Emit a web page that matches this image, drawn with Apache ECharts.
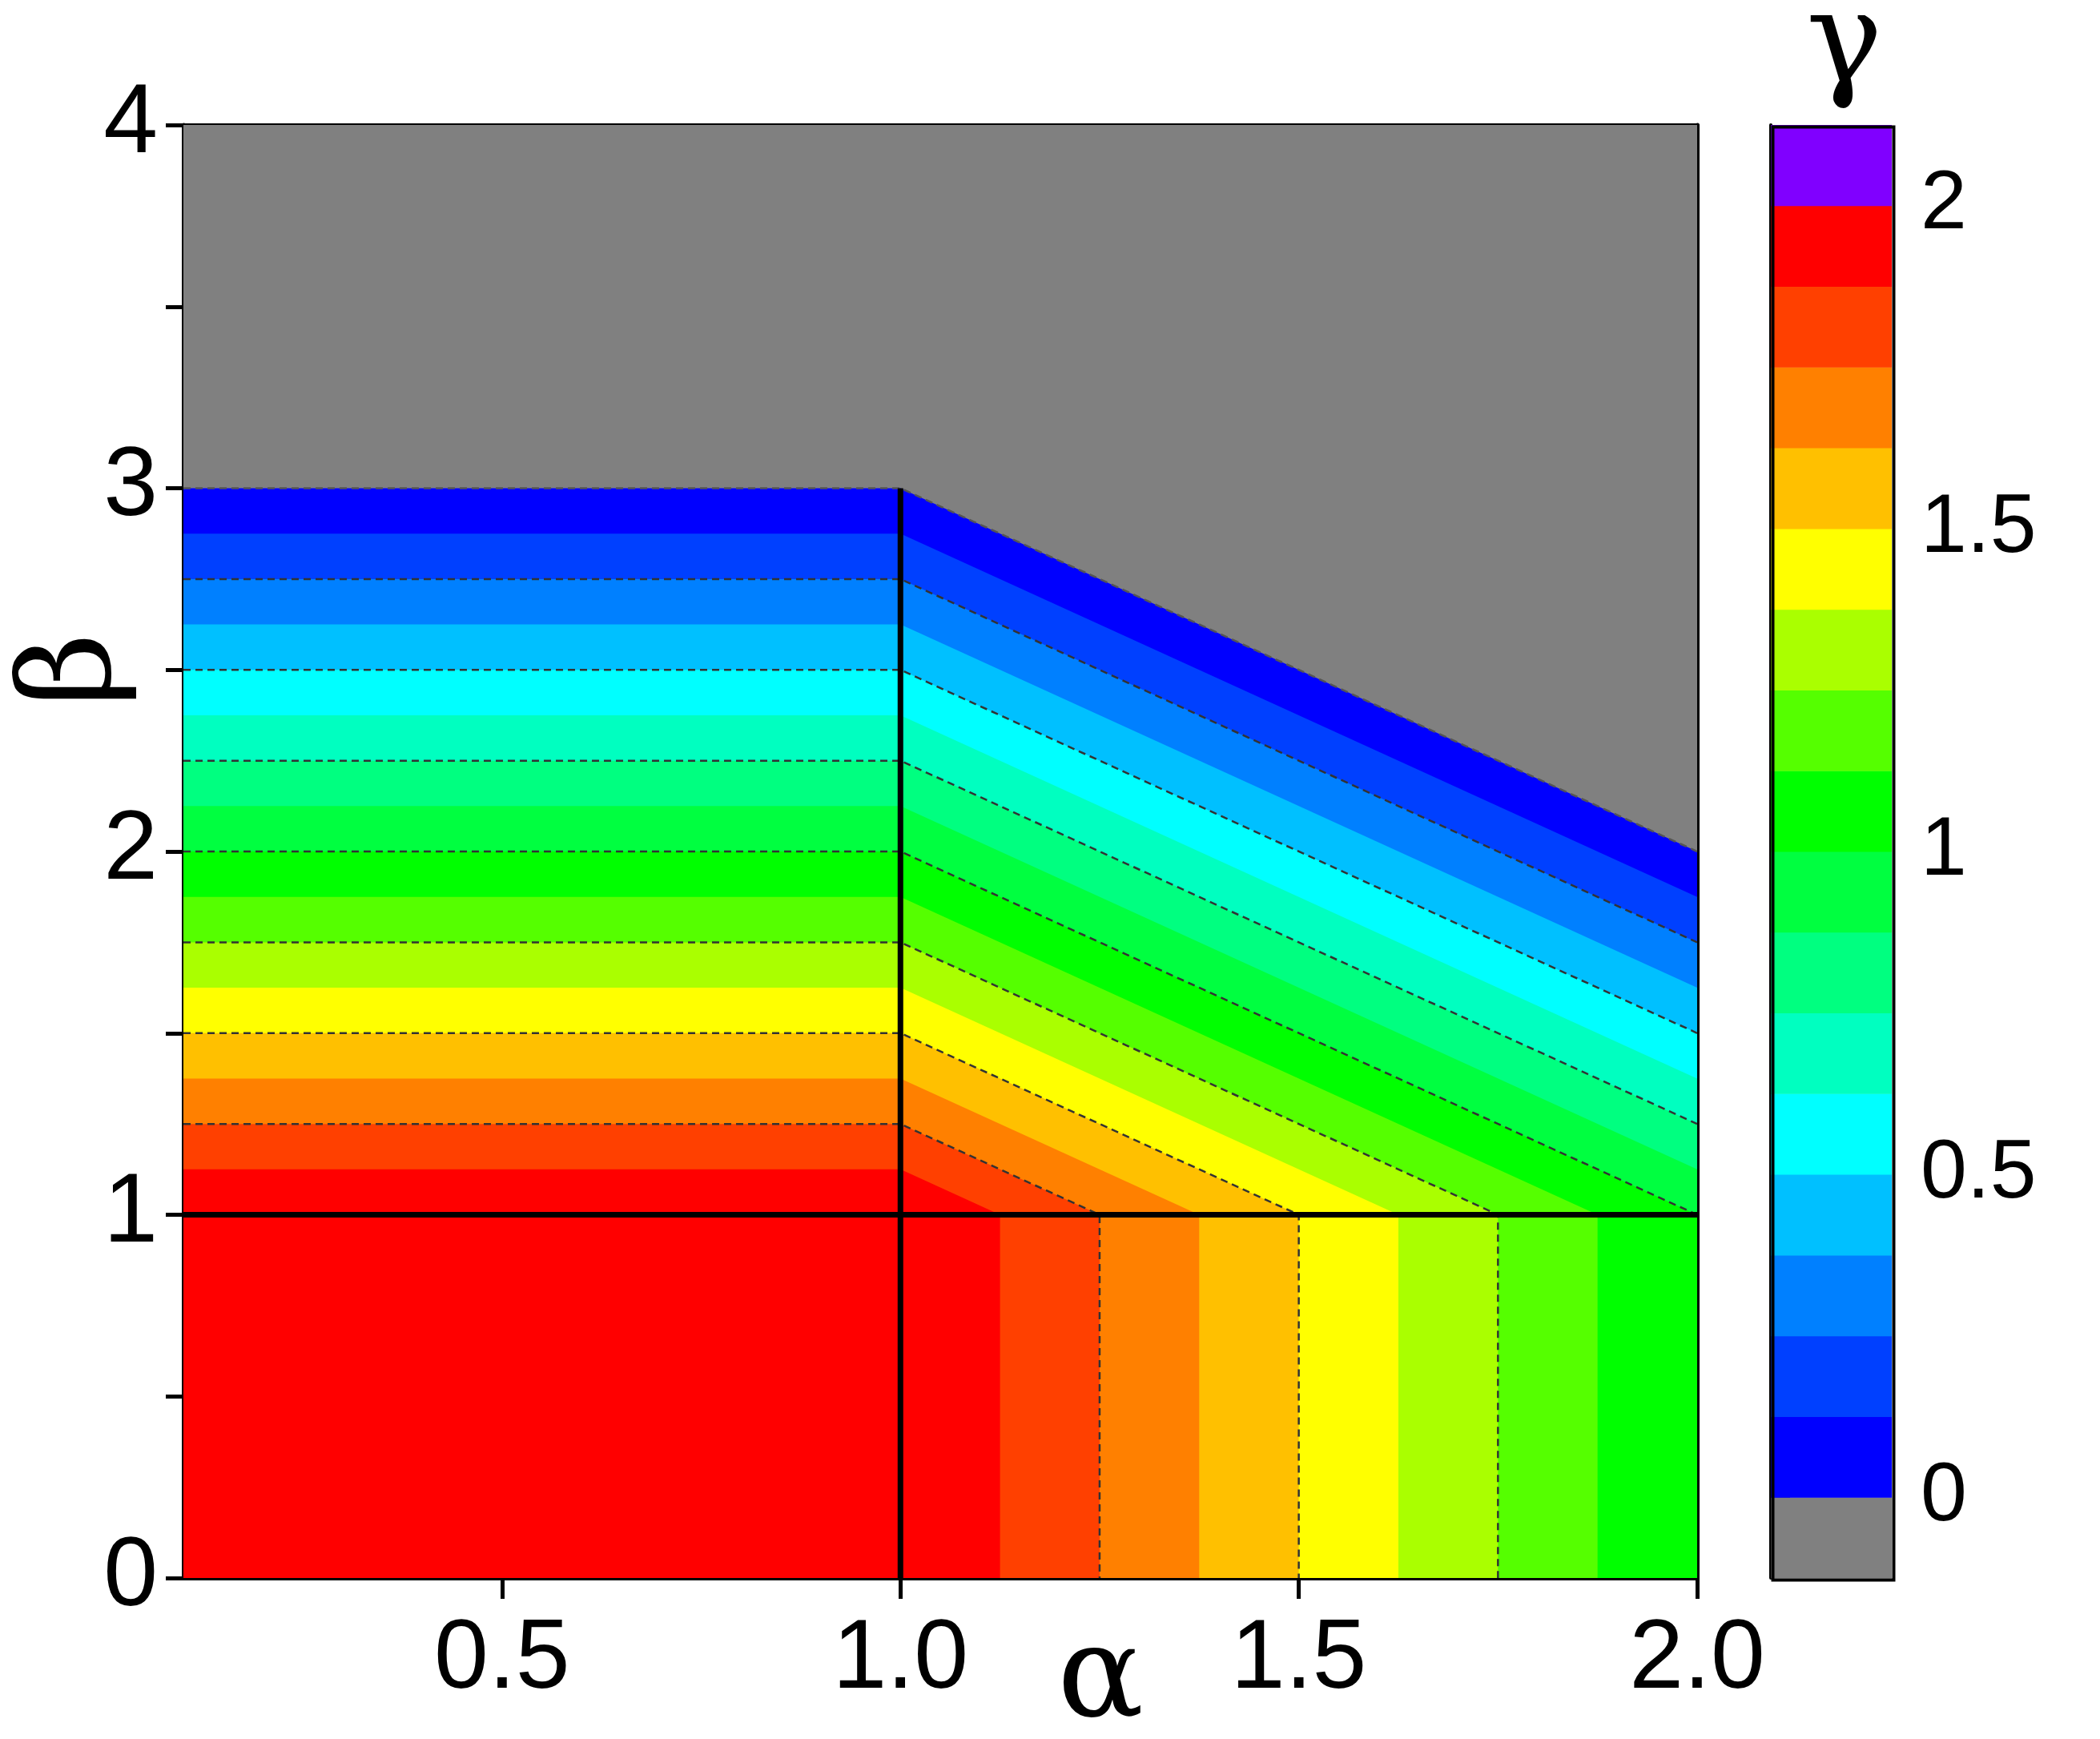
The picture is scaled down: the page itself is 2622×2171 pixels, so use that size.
<!DOCTYPE html>
<html>
<head>
<meta charset="utf-8">
<script src="https://cdn.jsdelivr.net/npm/echarts@6/dist/echarts.min.js"></script>
<style>html,body{margin:0;padding:0;background:#fff}#main{width:2622px;height:2171px}</style>
</head>
<body>
<div id="main"></div>
<script>
// gamma level thresholds (each band is [level, level+0.125))
var levels = [0, 0.125, 0.25, 0.375, 0.5, 0.625, 0.75, 0.875, 1, 1.125, 1.25, 1.375, 1.5, 1.625, 1.75, 1.875];
var bandColors = ['#0000ff', '#0040ff', '#0080ff', '#00c0ff', '#00ffff', '#00ffc0', '#00ff80', '#00ff40',
                  '#00ff00', '#55ff00', '#aaff00', '#ffff00', '#ffc000', '#ff8000', '#ff4000', '#ff0000'];
var contourLevels = [0, 0.25, 0.5, 0.75, 1, 1.25, 1.5, 1.75];
var cbLevels = [-0.125].concat(levels).concat([2]);
var cbColors = ['#808080'].concat(bandColors).concat(['#8000ff']);
var cbLabels = [0, 0.5, 1, 1.5, 2];
var xLabels = [0.5, 1.0, 1.5, 2.0];
var xMinor = [0.25, 0.75, 1.25, 1.75];
var yTicks = [0, 0.5, 1, 1.5, 2, 2.5, 3, 3.5, 4];
var yLabels = [0, 1, 2, 3, 4];
var alphaMin = 0.1, alphaMax = 2, betaMax = 4;

// region where gamma >= t ; gamma = 4 - max(alpha,1) - max(beta,1)
function region(t) {
    var s = 4 - t, a = Math.min(alphaMax, s - 1);
    return [[alphaMin, 0], [a, 0], [a, 1], [a, s - a], [1, s - 1], [alphaMin, s - 1]];
}
function contour(t) {
    var s = 4 - t, a = Math.min(alphaMax, s - 1);
    var p = [[alphaMin, s - 1], [1, s - 1], [a, s - a]];
    if (s - 1 < alphaMax) { p.push([a, 1]); p.push([a, 0]); }
    return p;
}

var myChart = echarts.init(document.getElementById('main'));
var labelFont = {color: '#000', fontSize: 122, fontFamily: 'Liberation Sans'};

option = {
    backgroundColor: '#fff',
    animation: false,
    grid: [
        {left: 229, top: 156, width: 1890, height: 1814, outerBoundsMode: 'none'},
        {left: 2211, top: 156, width: 151, height: 1814, outerBoundsMode: 'none'}
    ],
    xAxis: [
        {type: 'value', gridIndex: 0, min: alphaMin, max: alphaMax, splitLine: {show: false},
            axisLine: {lineStyle: {color: '#000', width: 5}},
            axisTick: {customValues: xLabels, length: 26, lineStyle: {width: 5, color: '#000'}},
            axisLabel: Object.assign({customValues: xLabels, margin: 42, formatter: function(v) { return v.toFixed(1); }}, labelFont)},
        {type: 'value', gridIndex: 0, min: alphaMin, max: alphaMax, splitLine: {show: false},
            axisLine: {show: false},
            axisTick: {customValues: xMinor, length: 16, lineStyle: {width: 5, color: '#000'}},
            axisLabel: {show: false}},
        {type: 'value', gridIndex: 0, position: 'top', min: alphaMin, max: alphaMax, splitLine: {show: false},
            axisLine: {lineStyle: {color: '#000', width: 5}}, axisTick: {show: false}, axisLabel: {show: false}},
        {type: 'value', gridIndex: 1, min: 0, max: 1, show: false}
    ],
    yAxis: [
        {type: 'value', gridIndex: 0, min: 0, max: betaMax, splitLine: {show: false},
            axisLine: {lineStyle: {color: '#000', width: 5}},
            axisTick: {customValues: yTicks, length: 22, lineStyle: {width: 5, color: '#000'}},
            axisLabel: Object.assign({customValues: yLabels, margin: 32}, labelFont)},
        {type: 'value', gridIndex: 0, position: 'right', min: 0, max: betaMax, splitLine: {show: false},
            axisLine: {lineStyle: {color: '#000', width: 5}}, axisTick: {show: false}, axisLabel: {show: false}},
        {type: 'value', gridIndex: 1, position: 'right', min: -0.125, max: 2.125, splitLine: {show: false},
            axisLine: {lineStyle: {color: '#000', width: 4}},
            axisTick: {customValues: cbLabels, length: 24, lineStyle: {width: 4, color: '#000'}},
            axisLabel: Object.assign({customValues: cbLabels, margin: 36}, labelFont, {fontSize: 104})}
    ],
    graphic: [
        {type: 'text', left: 1320, top: 2020, style: {text: 'α', fontSize: 160, fontFamily: 'DejaVu Serif', fill: '#000'}},
        {type: 'text', x: 95, y: 836, rotation: Math.PI / 2,
            style: {text: 'β', fontSize: 160, fontFamily: 'DejaVu Serif', fill: '#000', align: 'center', verticalAlign: 'middle'}},
        {type: 'text', left: 2255, top: -20, style: {text: 'γ', fontSize: 160, fontFamily: 'DejaVu Serif', fill: '#000'}},
        {type: 'rect', left: 2211, top: 156, shape: {width: 151, height: 1814}, style: {fill: 'none', stroke: '#000', lineWidth: 4}, z: 100}
    ],
    series: [
        {type: 'custom', xAxisIndex: 0, yAxisIndex: 0, clip: true,
            data: [[0]],
            renderItem: function(params, api) {
                var p = [[alphaMin, 0], [alphaMax, 0], [alphaMax, betaMax], [alphaMin, betaMax]].map(function(d) { return api.coord(d); });
                return {type: 'polygon', shape: {points: p}, style: {fill: '#808080'}};
            }},
        {type: 'custom', xAxisIndex: 0, yAxisIndex: 0, clip: true,
            data: levels.map(function(t) { return [t]; }),
            renderItem: function(params, api) {
                var p = region(levels[params.dataIndex]).map(function(d) { return api.coord(d); });
                return {type: 'polygon', shape: {points: p}, style: {fill: bandColors[params.dataIndex]}};
            }},
        {type: 'custom', xAxisIndex: 0, yAxisIndex: 0, clip: true,
            data: contourLevels.map(function(t) { return [t]; }),
            renderItem: function(params, api) {
                var p = contour(contourLevels[params.dataIndex]).map(function(d) { return api.coord(d); });
                return {type: 'polyline', shape: {points: p},
                    style: {fill: 'none', stroke: params.dataIndex === 0 ? '#555' : '#333', lineWidth: 2.5, lineDash: [9, 6]}};
            }},
        {type: 'custom', xAxisIndex: 0, yAxisIndex: 0, clip: true,
            data: [[0]],
            renderItem: function(params, api) {
                return {type: 'group', children: [
                    {type: 'line', shape: {x1: api.coord([1, 0])[0], y1: api.coord([1, 0])[1], x2: api.coord([1, 3])[0], y2: api.coord([1, 3])[1]},
                        style: {stroke: '#000', lineWidth: 7}},
                    {type: 'line', shape: {x1: api.coord([alphaMin, 1])[0], y1: api.coord([alphaMin, 1])[1], x2: api.coord([alphaMax, 1])[0], y2: api.coord([alphaMax, 1])[1]},
                        style: {stroke: '#000', lineWidth: 7}}
                ]};
            }},
        {type: 'custom', xAxisIndex: 3, yAxisIndex: 2,
            data: cbLevels.map(function(t) { return [t]; }),
            renderItem: function(params, api) {
                var lv = cbLevels[params.dataIndex];
                var a = api.coord([0, lv + 0.125]), b = api.coord([1, lv]);
                return {type: 'rect', shape: {x: a[0], y: a[1], width: b[0] - a[0], height: b[1] - a[1] + 0.5},
                    style: {fill: cbColors[params.dataIndex]}};
            }}
    ]
};
myChart.setOption(option);
</script>
</body>
</html>
